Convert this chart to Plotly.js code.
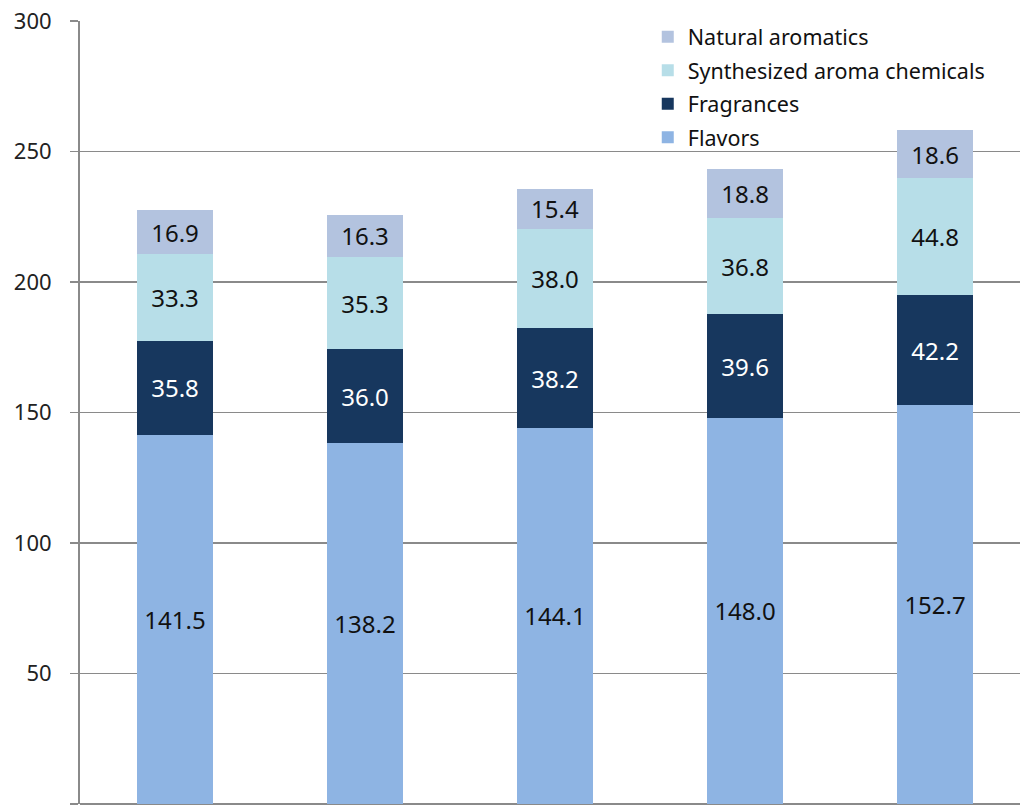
<!DOCTYPE html>
<html>
<head>
<meta charset="utf-8">
<script src="https://cdn.plot.ly/plotly-3.0.1.min.js"></script>
<style>
  html, body { margin: 0; padding: 0; background: #ffffff; }
  #chart { width: 1020px; height: 806px; }
</style>
</head>
<body>
<div id="chart"></div>
<script>
// Stacked market segments for five consecutive periods
const periods = [0, 1, 2, 3, 4];
const flavors = [141.5, 138.2, 144.1, 148.0, 152.7];
const fragrances = [35.8, 36.0, 38.2, 39.6, 42.2];
const synthesized = [33.3, 35.3, 38.0, 36.8, 44.8];
const naturalAromatics = [16.9, 16.3, 15.4, 18.8, 18.6];

const seriesNames = ['Flavors', 'Fragrances', 'Synthesized aroma chemicals', 'Natural aromatics'];
const seriesValues = [flavors, fragrances, synthesized, naturalAromatics];
const seriesColors = ['#8eb4e3', '#17375e', '#b7dee8', '#b3c3df'];
const labelColors = ['#111111', '#ffffff', '#111111', '#111111'];
// legend lists the top segment first
const legendRanks = [4, 3, 2, 1];

const FONT = '"Noto Sans", "Open Sans", sans-serif';

const traces = seriesNames.map((name, i) => ({
  type: 'bar',
  name: name,
  legendgroup: 'g' + i,
  legendrank: legendRanks[i],
  x: periods,
  y: seriesValues[i],
  marker: { color: seriesColors[i], line: { width: 0 } },
  text: seriesValues[i].map(v => v.toFixed(1)),
  textposition: 'inside',
  insidetextanchor: 'middle',
  textangle: 0,
  constraintext: 'none',
  textfont: { family: FONT, size: 24, color: labelColors[i] },
  hoverinfo: 'name+y'
}));

const layout = {
  width: 1020,
  height: 806,
  margin: { l: 80, r: 0, t: 21, b: 2, pad: 0 },
  paper_bgcolor: '#ffffff',
  plot_bgcolor: '#ffffff',
  barmode: 'stack',
  bargap: 0.6,
  showlegend: true,
  legend: {
    x: 0.604, xanchor: 'left',
    y: 1.006, yanchor: 'top',
    traceorder: 'grouped',
    tracegroupgap: 2.5,
    bgcolor: 'rgba(255,255,255,0)',
    font: { family: FONT, size: 21.5, color: '#111111' }
  },
  xaxis: {
    range: [-0.5, 4.447],
    showticklabels: false,
    ticks: '',
    showgrid: false,
    zeroline: false,
    showline: false,
    fixedrange: true
  },
  yaxis: {
    range: [0, 300],
    tickvals: [0, 50, 100, 150, 200, 250, 300],
    ticks: 'outside',
    ticklen: 8,
    tickwidth: 1.5,
    tickcolor: '#8a8a8a',
    ticklabelstandoff: 14,
    tickfont: { family: FONT, size: 22, color: '#222222' },
    showgrid: true,
    gridcolor: '#8a8a8a',
    gridwidth: 1.5,
    zeroline: true,
    zerolinecolor: '#8a8a8a',
    zerolinewidth: 1.5,
    showline: true,
    linecolor: '#8a8a8a',
    linewidth: 2,
    fixedrange: true
  }
};

Plotly.newPlot('chart', traces, layout, { displayModeBar: false, staticPlot: true });
</script>
</body>
</html>
